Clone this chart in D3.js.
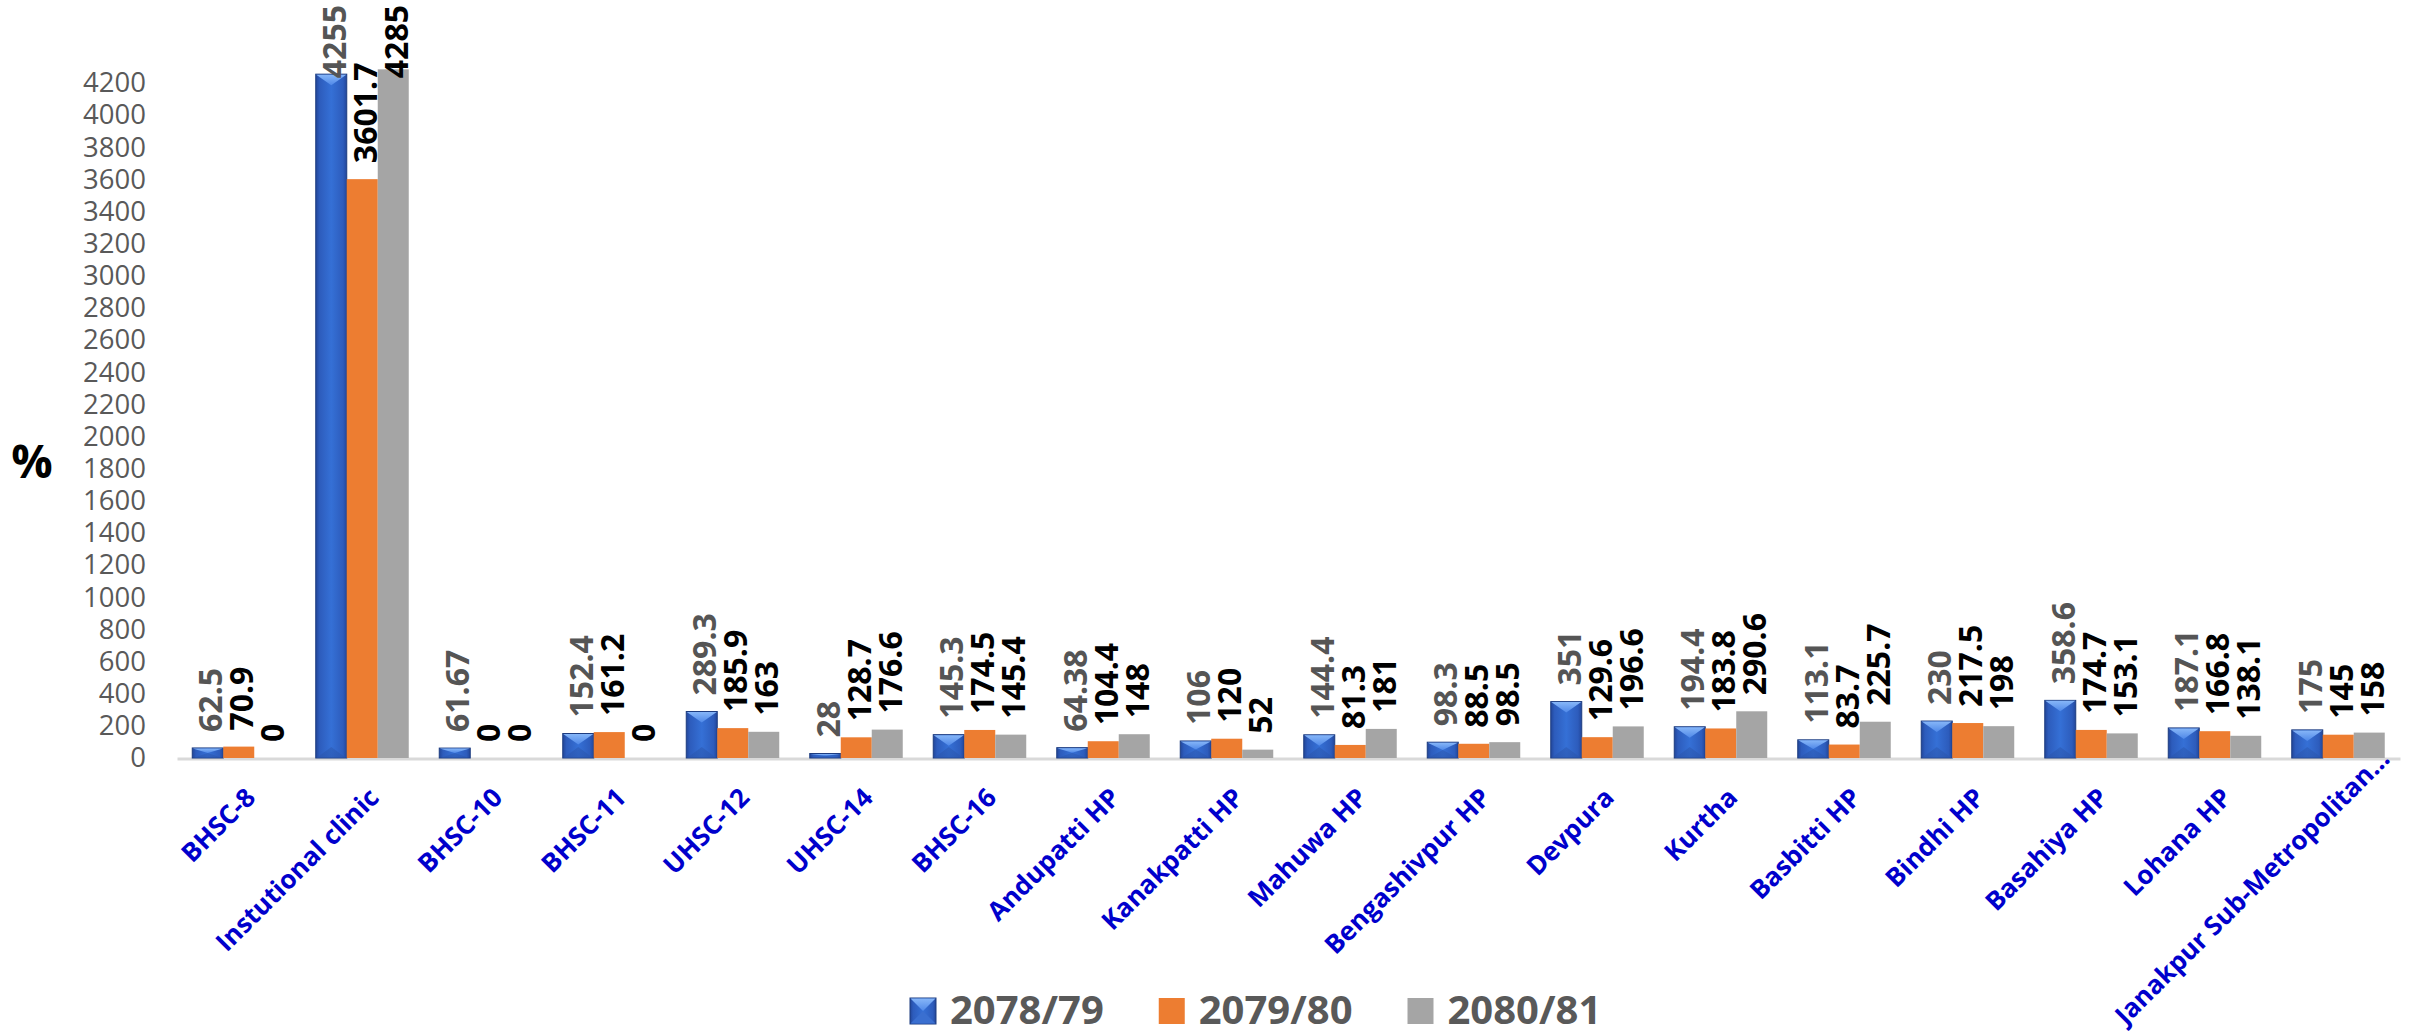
<!DOCTYPE html>
<html>
<head>
<meta charset="utf-8">
<script src="https://cdn.jsdelivr.net/npm/d3@7"></script>
<style>
  html, body { margin: 0; padding: 0; background: #ffffff; }
  svg { display: block; }
</style>
</head>
<body>
<svg id="chart" width="2417" height="1036"></svg>
<script>
// ---------------- DATA ----------------
const categories = [
  "BHSC-8", "Instutional clinic", "BHSC-10", "BHSC-11", "UHSC-12", "UHSC-14",
  "BHSC-16", "Andupatti HP", "Kanakpatti HP", "Mahuwa HP", "Bengashivpur HP",
  "Devpura", "Kurtha", "Basbitti HP", "Bindhi HP", "Basahiya HP", "Lohana HP",
  "Janakpur Sub-Metropolitan..."
];
const seriesNames = ["2078/79", "2079/80", "2080/81"];
const values2078 = [62.5, 4255, 61.67, 152.4, 289.3, 28, 145.3, 64.38, 106, 144.4, 98.3, 351, 194.4, 113.1, 230, 358.6, 187.1, 175];
const values2079 = [70.9, 3601.7, 0, 161.2, 185.9, 128.7, 174.5, 104.4, 120, 81.3, 88.5, 129.6, 183.8, 83.7, 217.5, 174.7, 166.8, 145];
const values2080 = [0, 4285, 0, 0, 163, 176.6, 145.4, 148, 52, 181, 98.5, 196.6, 290.6, 225.7, 198, 153.1, 138.1, 158];
const yTicks = [0, 200, 400, 600, 800, 1000, 1200, 1400, 1600, 1800, 2000, 2200, 2400, 2600, 2800, 3000, 3200, 3400, 3600, 3800, 4000, 4200];
const yAxisTitle = "%";

// ---------------- SETUP ----------------
const svg = d3.select("#chart");
const seriesValues = [values2078, values2079, values2080];
const rows = categories.map((c, i) => ({
  cat: c,
  vals: seriesNames.map((s, k) => ({ series: s, k: k, v: seriesValues[k][i] }))
}));

const x = d3.scaleBand().domain(categories).range([177, 2400]).paddingInner(0.247).paddingOuter(0.1235);
const xs = d3.scaleBand().domain(seriesNames).range([0, x.bandwidth()]);
const y = d3.scaleLinear().domain([0, 4200]).range([758, 83]);

const fills = ["url(#blueGrad)", "#ED7D31", "#A5A5A5"];
const labelColors = ["#555555", "#000000", "#000000"];

// gradients
const defs = svg.append("defs");
const bg = defs.append("linearGradient").attr("id", "blueGrad").attr("x1", 0).attr("x2", 1).attr("y1", 0).attr("y2", 0);
[[0, "#22469a"], [0.12, "#2d5cbc"], [0.5, "#3570d6"], [0.88, "#2d5cbc"], [1, "#22469a"]]
  .forEach(([o, c]) => bg.append("stop").attr("offset", o).attr("stop-color", c));
const tg = defs.append("linearGradient").attr("id", "bevelTop").attr("x1", 0).attr("x2", 0).attr("y1", 0).attr("y2", 1);
[[0, "#86b6f8"], [1, "#4f88e8"]].forEach(([o, c]) => tg.append("stop").attr("offset", o).attr("stop-color", c));
const btg = defs.append("linearGradient").attr("id", "bevelBot").attr("x1", 0).attr("x2", 0).attr("y1", 0).attr("y2", 1);
[[0, "#2c5ab4"], [1, "#2a55ac"]].forEach(([o, c]) => btg.append("stop").attr("offset", o).attr("stop-color", c));

// ---------------- Y AXIS ----------------
const yAxis = d3.axisLeft(y).tickValues(yTicks).tickSize(0).tickPadding(31).tickFormat(d3.format("d"));
const gy = svg.append("g").attr("transform", "translate(177,0)").call(yAxis);
gy.select(".domain").remove();
gy.selectAll("text")
  .attr("font-family", "'Open Sans', sans-serif")
  .attr("font-size", 27.5)
  .attr("fill", "#595959");

svg.append("text")
  .attr("x", 32).attr("y", 460)
  .attr("text-anchor", "middle").attr("dominant-baseline", "central")
  .attr("font-family", "'Open Sans', sans-serif").attr("font-weight", 700)
  .attr("font-size", 46).attr("fill", "#000")
  .text(yAxisTitle);

// ---------------- X AXIS ----------------
const xAxis = d3.axisBottom(x).tickSize(0).tickSizeOuter(0).tickFormat("");
const gx = svg.append("g").attr("transform", "translate(0,758.5)").call(xAxis);
gx.select(".domain").attr("stroke", "#d9d9d9").attr("stroke-width", 3);
gx.selectAll(".tick text").remove();

svg.append("g").selectAll("text")
  .data(categories)
  .join("text")
  .attr("transform", d => `translate(${x(d) + x.bandwidth() / 2 + 5},${786}) rotate(-45)`)
  .attr("text-anchor", "end")
  .attr("dy", "0.72em")
  .attr("font-family", "'Open Sans', sans-serif")
  .attr("font-weight", 700)
  .attr("font-size", 26)
  .attr("fill", "#0000CC")
  .text(d => d)
  .each(function (d) {
    // keep the label inside the picture: slide it up if needed
    const r = this.getBoundingClientRect();
    const over = r.bottom - 1033;
    if (over > 0) {
      const cx = x(d) + x.bandwidth() / 2 + 5 + over * 0.9;
      const cy = 786 - over;
      d3.select(this).attr("transform", `translate(${cx},${cy}) rotate(-45)`);
    }
  });

// ---------------- BARS ----------------
const groups = svg.append("g").selectAll("g")
  .data(rows)
  .join("g")
  .attr("transform", d => `translate(${x(d.cat)},0)`);

groups.each(function (row) {
  const g = d3.select(this);
  row.vals.forEach(d => {
    const bx = xs(d.series), bw = xs.bandwidth();
    const top = y(d.v), h = y(0) - y(d.v);
    if (h <= 0) return;
    if (d.k === 0) {
      g.append("rect").attr("x", bx).attr("y", top).attr("width", bw).attr("height", h)
        .attr("fill", fills[0]).attr("stroke", "#1d3c80").attr("stroke-width", 1);
      const b = Math.min(11, h / 2);
      g.append("path")
        .attr("d", `M${bx + 0.5},${top + 0.5} L${bx + bw - 0.5},${top + 0.5} L${bx + bw / 2},${top + b} Z`)
        .attr("fill", "url(#bevelTop)");
      g.append("path")
        .attr("d", `M${bx + 0.5},${y(0)} L${bx + bw - 0.5},${y(0)} L${bx + bw / 2},${y(0) - b} Z`)
        .attr("fill", "url(#bevelBot)").attr("opacity", 0.6);
    } else {
      g.append("rect").attr("x", bx).attr("y", top).attr("width", bw).attr("height", h)
        .attr("fill", fills[d.k]);
    }
  });
});

// ---------------- DATA LABELS ----------------
groups.each(function (row) {
  const g = d3.select(this);
  row.vals.forEach(d => {
    const cx = xs(d.series) + xs.bandwidth() / 2 + 2;
    const t = g.append("text")
      .attr("text-anchor", "start")
      .attr("dominant-baseline", "central")
      .attr("font-family", "'Open Sans', sans-serif")
      .attr("font-weight", 700)
      .attr("font-size", 32)
      .attr("fill", labelColors[d.k])
      .text(String(d.v));
    const len = t.node().getComputedTextLength();
    let start = y(d.v) - 16;
    if (start - len < 5) start = 5 + len;
    t.attr("transform", `translate(${cx},${start}) rotate(-90)`);
  });
});

// ---------------- LEGEND ----------------
const legend = svg.append("g").attr("transform", "translate(910,998)");
let lx = 0;
seriesNames.forEach((s, k) => {
  const item = legend.append("g").attr("transform", `translate(${lx},0)`);
  if (k === 0) {
    item.append("rect").attr("width", 26).attr("height", 26).attr("fill", "url(#blueGrad)")
      .attr("stroke", "#1d3c80").attr("stroke-width", 1);
    item.append("path").attr("d", "M0.5,0.5 L25.5,0.5 L13,13 Z").attr("fill", "url(#bevelTop)");
    item.append("path").attr("d", "M0.5,25.5 L25.5,25.5 L13,13 Z").attr("fill", "#3a6fd0");
  } else {
    item.append("rect").attr("width", 26).attr("height", 26).attr("fill", fills[k]);
  }
  const t = item.append("text")
    .attr("x", 40).attr("y", 26)
    .attr("font-family", "'Open Sans', sans-serif")
    .attr("font-weight", 700)
    .attr("font-size", 40)
    .attr("fill", "#595959")
    .text(s);
  lx += 40 + t.node().getComputedTextLength() + 55;
});
</script>
</body>
</html>
